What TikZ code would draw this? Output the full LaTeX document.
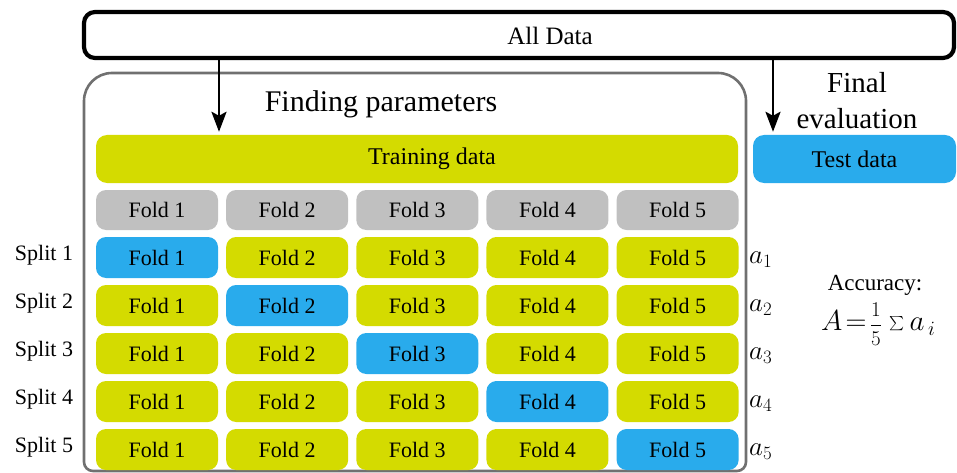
\RequirePackage{fix-cm}
\documentclass[tikz,border=0pt]{standalone}
\usepackage{exscale}
\usepackage{graphicx}
\usepackage{fontspec}
\setmainfont{Liberation Serif}
\usetikzlibrary{arrows.meta}
\definecolor{trainc}{RGB}{212,219,0}
\definecolor{testc}{RGB}{41,171,236}
\definecolor{headc}{RGB}{192,192,192}
\definecolor{framec}{RGB}{112,112,112}
\newcommand{\sizedmath}[2]{\mbox{\fontsize{#1}{#1}\selectfont$\displaystyle#2$}}
\begin{document}
\begin{tikzpicture}[x=1pt,y=-1pt,
  fz/.style={font=\fontsize{22}{26}\selectfont},
  foldbox/.style={rounded corners=10pt, minimum width=122pt, minimum height=41pt,
    inner sep=0pt, fz},
  bigbar/.style={rounded corners=11pt, minimum height=48pt, inner sep=0pt,
    font=\fontsize{24}{28}\selectfont},
  frame/.style={draw=framec, line width=2.6pt},
  arr/.style={draw=black, line width=2.8pt, -{Stealth[length=20pt,width=15pt,inset=4pt]}},
  alabel/.style={anchor=west, inner sep=0pt, font=\fontsize{27}{30}\selectfont},
  splabel/.style={inner sep=0pt, fz}
]
\useasboundingbox (0,0) rectangle (957,473);

% top box holding the whole data set
\node[draw=black, line width=4.2pt, rounded corners=11pt, minimum width=870pt,
      minimum height=46pt, inner sep=0pt] (alldata) at (519,35) {};
\node[font=\fontsize{25}{29}\selectfont, inner sep=0pt] (alltext) at (550,36) {All Data};

% container for the parameter search: wide top corners, tight bottom corners
\draw[frame] (84,300) [rounded corners=28pt] -- (84,73) -- (746,73) -- (746,300)
  [rounded corners=9pt] -- (746,471) -- (84,471) -- cycle;
\node[font=\fontsize{30}{34}\selectfont, inner sep=0pt] (findpar) at (381,104) {Finding parameters};

% training and test bars
\node[bigbar, fill=trainc, minimum width=642pt] (train) at (417,159) {\hspace*{30pt}Training data};
\node[bigbar, fill=testc, minimum width=203pt] (test) at (854.5,159) {Test data};
\node[font=\fontsize{29}{36}\selectfont, align=center, inner sep=0pt] (finaleval) at (857,101)
  {Final\\evaluation};

% arrows from the whole data set
\coordinate (trainx) at (219,0);
\coordinate (testx) at (773,0);
\draw[arr] (alldata.south -| trainx) -- ([yshift=3pt]train.north -| trainx);
\draw[arr] (alldata.south -| testx) -- ([yshift=3pt]test.north -| testx);

% header row of folds
\foreach \c in {1,...,5}{
  \node[foldbox, fill=headc, minimum height=40pt] (h\c) at ({157+130.15*(\c-1)},210) {Fold \c};
}

% the five splits
\foreach \r in {1,...,5}{
  \foreach \c in {1,...,5}{
    \ifnum\r=\c \def\fc{testc}\else\def\fc{trainc}\fi
    \node[foldbox, fill=\fc] (f\r\c) at ({157+130.15*(\c-1)},{257.5+48*(\r-1)}) {Fold \c};
  }
  \node[splabel] (s\r) at (44,{255+48*(\r-1)}) {Split \r};
  \node[alabel] (a\r) at (749,{260+48*(\r-1)}) {$a_{\r}$};
}

% overall accuracy
\node[inner sep=0pt, font=\fontsize{23}{27}\selectfont] (acc) at (875,285) {Accuracy:};
\node[anchor=west, inner sep=0pt, font=\fontsize{29}{32}\selectfont] (formula) at (821,324)
  {$A\!=\!\sizedmath{21}{\frac{1}{5}}\;\raisebox{\depth}{\resizebox{15pt}{!}{$\textstyle\sum$}}\,a_{\,i}$};
\end{tikzpicture}
\end{document}
